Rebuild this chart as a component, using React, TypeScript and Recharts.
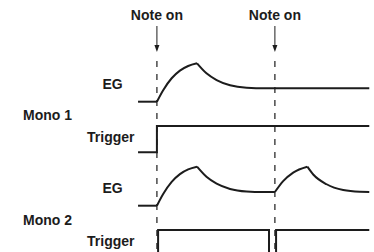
import { ComposedChart, Line, ReferenceLine, XAxis, YAxis } from 'recharts';

// time in arbitrary units, note-on events at t=0 and t=100
const noteOnTimes = [0, 100];
const noteOnLabel = 'Note on';

// Mono 1: envelope does not retrigger on the second note
const mono1EgIdle = [
  { t: -16, v: 0 },
  { t: 0, v: 0 },
];
const mono1EgAttack = [
  { t: 0, v: 0 },
  { t: 5.3, v: 0.3 },
  { t: 12.5, v: 0.61 },
  { t: 19.5, v: 0.81 },
  { t: 26.5, v: 0.93 },
  { t: 34, v: 1 },
];
const mono1EgDecay = [
  { t: 34, v: 1 },
  { t: 42, v: 0.74 },
  { t: 50.6, v: 0.565 },
  { t: 62, v: 0.43 },
  { t: 76, v: 0.365 },
  { t: 92, v: 0.35 },
  { t: 180, v: 0.35 },
];
const mono1Trigger = [
  { t: -16, v: 0 },
  { t: 0, v: 0 },
  { t: 0, v: 1 },
  { t: 180, v: 1 },
];

// Mono 2: envelope retriggers on every note
const mono2EgIdle = [
  { t: -16, v: 0 },
  { t: 0, v: 0 },
];
const mono2EgAttack1 = [
  { t: 0, v: 0 },
  { t: 5.3, v: 0.3 },
  { t: 12.5, v: 0.61 },
  { t: 19.5, v: 0.81 },
  { t: 26.5, v: 0.93 },
  { t: 34, v: 1 },
];
const mono2EgDecay1 = [
  { t: 34, v: 1 },
  { t: 42, v: 0.74 },
  { t: 50.6, v: 0.565 },
  { t: 62, v: 0.43 },
  { t: 76, v: 0.365 },
  { t: 90, v: 0.35 },
  { t: 100, v: 0.35 },
];
const mono2EgAttack2 = [
  { t: 100, v: 0.35 },
  { t: 107, v: 0.63 },
  { t: 115.5, v: 0.85 },
  { t: 127.5, v: 1 },
];
const mono2EgDecay2 = [
  { t: 127.5, v: 1 },
  { t: 132.5, v: 0.8 },
  { t: 143.8, v: 0.55 },
  { t: 157.9, v: 0.4 },
  { t: 172, v: 0.355 },
  { t: 180, v: 0.35 },
];
const mono2Trigger = [
  { t: -16, v: 0 },
  { t: 1, v: 0 },
  { t: 1, v: 1 },
  { t: 95, v: 1 },
  { t: 95, v: 0 },
  { t: 101, v: 0 },
  { t: 101, v: 1 },
  { t: 180, v: 1 },
];

const rowNames = ['EG', 'Mono 1', 'Trigger', 'EG', 'Mono 2', 'Trigger'];

const W = 374;
const H = 252;
const FONT = '"Liberation Sans", Arial, Helvetica, sans-serif';
const INK = '#1c1c1c';

// pixel row of level 0 and height of level 1 -> axis domain
const rowDomain = (basePx: number, unitPx: number): [number, number] => [
  -(H - basePx) / unitPx,
  basePx / unitPx,
];

const labelLayout = [
  { x: 112.5, y: 89, anchor: 'middle' },
  { x: 23, y: 120, anchor: 'start' },
  { x: 134.5, y: 142, anchor: 'end' },
  { x: 112.5, y: 193, anchor: 'middle' },
  { x: 23, y: 225, anchor: 'start' },
  { x: 134.5, y: 246, anchor: 'end' },
];

const NoteOnMarker = (props: any) => {
  const x = props.x1;
  return (
    <g>
      <text x={x} y={20} textAnchor="middle" fontFamily={FONT} fontWeight={700} fontSize={14} fill={INK}>
        {noteOnLabel}
      </text>
      <line x1={x} y1={26} x2={x} y2={46} stroke={INK} strokeWidth={1} />
      <polygon points={`${x - 2.5},45 ${x + 2.5},45 ${x},52`} fill={INK} />
      <line x1={x} y1={61} x2={x} y2={H} stroke={INK} strokeWidth={1.2} strokeDasharray="6 7" />
    </g>
  );
};

const seg = (key: string, axis: string, data: any[], type: 'linear' | 'monotone') => (
  <Line
    key={key}
    yAxisId={axis}
    data={data}
    dataKey="v"
    type={type}
    stroke={INK}
    strokeWidth={2}
    dot={false}
    activeDot={false}
    isAnimationActive={false}
  />
);

export default function App() {
  return (
    <div style={{ position: 'absolute', left: 0, top: 0, width: W, height: H, background: '#fff' }}>
      <ComposedChart width={W} height={H} margin={{ top: 0, right: 0, bottom: 0, left: 0 }}>
        <XAxis dataKey="t" type="number" domain={[-133, 184]} allowDataOverflow hide />
        <YAxis yAxisId="eg1" type="number" domain={rowDomain(101.7, 38.4)} allowDataOverflow hide />
        <YAxis yAxisId="trig1" type="number" domain={rowDomain(152.3, 26.3)} allowDataOverflow hide />
        <YAxis yAxisId="eg2" type="number" domain={rowDomain(205.7, 39)} allowDataOverflow hide />
        <YAxis yAxisId="trig2" type="number" domain={rowDomain(256.3, 26.3)} allowDataOverflow hide />
        {noteOnTimes.map((t) => (
          <ReferenceLine key={t} x={t} yAxisId="eg1" stroke={INK} shape={NoteOnMarker} ifOverflow="visible" />
        ))}
        {seg('e1i', 'eg1', mono1EgIdle, 'linear')}
        {seg('e1a', 'eg1', mono1EgAttack, 'monotone')}
        {seg('e1d', 'eg1', mono1EgDecay, 'monotone')}
        {seg('t1', 'trig1', mono1Trigger, 'linear')}
        {seg('e2i', 'eg2', mono2EgIdle, 'linear')}
        {seg('e2a', 'eg2', mono2EgAttack1, 'monotone')}
        {seg('e2d', 'eg2', mono2EgDecay1, 'monotone')}
        {seg('e2a2', 'eg2', mono2EgAttack2, 'monotone')}
        {seg('e2d2', 'eg2', mono2EgDecay2, 'monotone')}
        {seg('t2', 'trig2', mono2Trigger, 'linear')}
      </ComposedChart>
      <svg width={W} height={H} style={{ position: 'absolute', left: 0, top: 0, pointerEvents: 'none' }}>
        {rowNames.map((name, i) => (
          <text
            key={i}
            x={labelLayout[i].x}
            y={labelLayout[i].y}
            textAnchor={labelLayout[i].anchor as any}
            fontFamily={FONT}
            fontWeight={700}
            fontSize={14}
            fill={INK}
          >
            {name}
          </text>
        ))}
      </svg>
    </div>
  );
}
